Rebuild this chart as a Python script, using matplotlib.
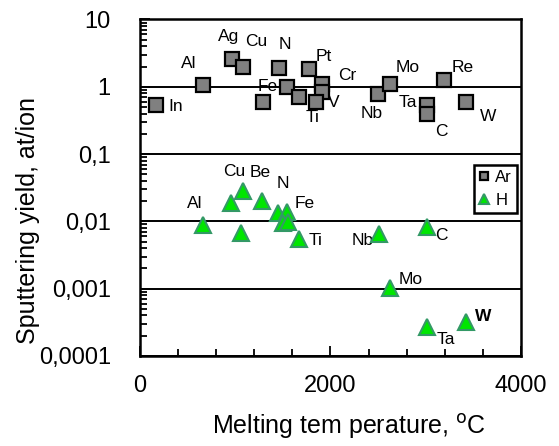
import numpy as np
import matplotlib.pyplot as plt
from matplotlib.ticker import FixedLocator, MultipleLocator, LogLocator, NullFormatter

plt.rcParams['font.family'] = ['Liberation Sans', 'DejaVu Sans']

# Ar ion sputtering (squares)
ar_temp = [165, 658, 963, 1078, 1288, 1456, 1540, 1669, 1774, 1914, 1907, 1848,
           2502, 2625, 3010, 3010, 3192, 3420]
ar_yield = [0.53, 1.05, 2.6, 2.0, 0.59, 1.88, 0.98, 0.70, 1.82, 1.10, 0.85, 0.59,
            0.78, 1.10, 0.54, 0.39, 1.26, 0.59]
ar_names = ['In', 'Al', 'Ag', 'Cu', '', 'N', 'Fe', '', 'Pt', 'Cr', 'V', 'Ti',
            'Nb', 'Mo', 'Ta', 'C', 'Re', 'W']
# label offsets in pixels (dx, dy)
ar_offs = [(20, -1), (-14, 22), (-3, 22), (14, 25), (0, 0), (6, 24), (-19, 1), (0, 0),
           (15, 13), (25, 9), (12, -11), (-3, -15),
           (-7, -19), (18, 17), (-19, 2), (15, -17), (19, 13), (22, -14)]

# H ion sputtering (triangles)
h_temp = [658, 955, 1078, 1060, 1277, 1452, 1540, 1498, 1557, 1669,
          2509, 3010, 2625, 3010, 3420]
h_yield = [0.00885, 0.019, 0.0283, 0.0068, 0.0203, 0.0135, 0.0139, 0.0094, 0.0099, 0.00542,
           0.0065, 0.0083, 0.00101, 0.000272, 0.000323]
h_names = ['Al', '', 'Cu', '', 'Be', 'N', 'Fe', '', '', 'Ti',
           'Nb', 'C', 'Mo', 'Ta', 'W']
h_offs = [(-8, 21), (0, 0), (-8, 19), (0, 0), (-1, 28), (5, 29), (18, 8), (0, 0), (0, 0), (17, -1),
          (-16, -7), (15, -9), (21, 9), (19, -13), (17, 5)]

ytick_vals = [0.0001, 0.001, 0.01, 0.1, 1, 10]
ytick_labels = ['0,0001', '0,001', '0,01', '0,1', '1', '10']
xtick_vals = [0, 2000, 4000]

fig = plt.figure(figsize=(5.59, 4.46), dpi=100)
ax = fig.add_axes([0.2504, 0.2018, 0.6816, 0.7545])

# decade lines
for v in ytick_vals:
    ax.axhline(v, color='black', lw=1.4, zorder=1)

ax.plot(ar_temp, ar_yield, 's', ms=9.5, mfc='#808080', mec='black', mew=1.6,
        ls='none', label='Ar', zorder=3)
ax.plot(h_temp, h_yield, '^', ms=11, mfc='#00e600', mec='#339966', mew=1.5,
        ls='none', label='H', zorder=3)

for x, y, name, (dx, dy) in zip(ar_temp, ar_yield, ar_names, ar_offs):
    if name:
        ax.annotate(name, (x, y), xytext=(dx, dy), textcoords='offset pixels',
                    ha='center', va='center', fontsize=12.5, zorder=2)
for x, y, name, (dx, dy) in zip(h_temp, h_yield, h_names, h_offs):
    if name:
        ax.annotate(name, (x, y), xytext=(dx, dy), textcoords='offset pixels',
                    ha='center', va='center', fontsize=12.5, zorder=2,
                    fontweight='bold' if name == 'W' else 'normal')

ax.set_yscale('log')
ax.set_ylim(0.0001, 10)
ax.set_xlim(0, 4000)
ax.yaxis.set_major_locator(FixedLocator(ytick_vals))
ax.set_yticklabels(ytick_labels)
ax.yaxis.set_minor_locator(LogLocator(base=10, subs=np.arange(2, 10)))
ax.yaxis.set_minor_formatter(NullFormatter())
ax.xaxis.set_major_locator(FixedLocator(xtick_vals))
ax.xaxis.set_minor_locator(MultipleLocator(400))

ax.tick_params(which='both', direction='in', width=1.3, labelsize=17)
ax.tick_params(which='major', length=7)
ax.tick_params(which='minor', length=5)
ax.tick_params(axis='y', pad=21)
ax.tick_params(axis='x', pad=14)
for s in ax.spines.values():
    s.set_linewidth(1.8)

ax.set_xlabel('Melting tem perature, $^{\\mathrm{o}}$C', fontsize=18)
ax.set_ylabel('Sputtering yield, at/ion', fontsize=18)
ax.xaxis.set_label_coords(0.549, -0.165)
ax.yaxis.set_label_coords(-0.262, 0.404)

leg = ax.legend(loc='upper right', bbox_to_anchor=(0.99, 0.568), fontsize=12,
                markerscale=0.6, handlelength=0.6, handletextpad=0.4,
                borderpad=0.3, labelspacing=0.5, fancybox=False, framealpha=1,
                edgecolor='black', borderaxespad=0)
leg.get_frame().set_linewidth(1.8)

fig.savefig('out.png', dpi=100)
